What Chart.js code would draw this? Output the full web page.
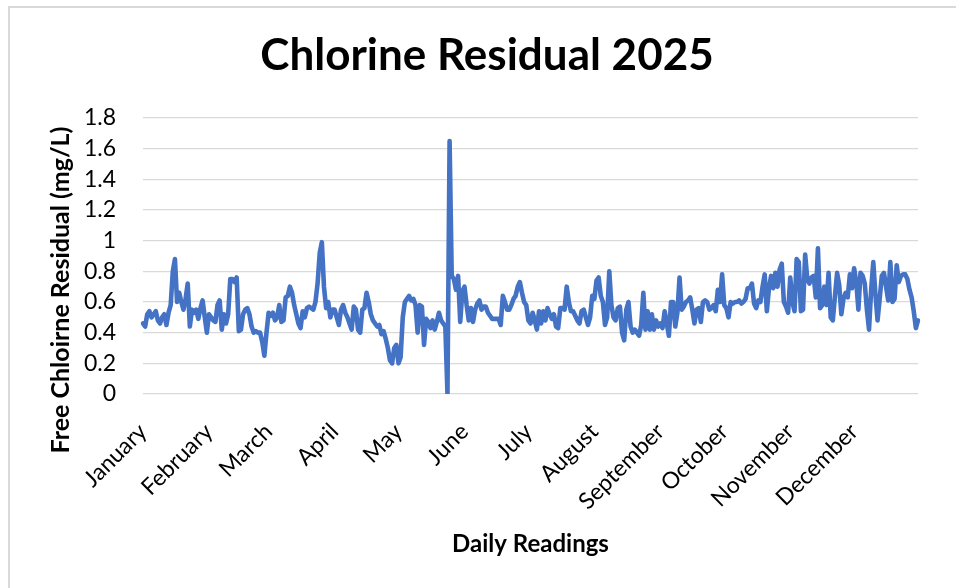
<!DOCTYPE html>
<html>
<head>
<meta charset="utf-8">
<script src="https://cdn.jsdelivr.net/npm/chart.js@4/dist/chart.umd.min.js"></script>
<style>
html, body { margin: 0; padding: 0; background: #fff; overflow: hidden; width: 956px; height: 588px; }
#frame { position: absolute; left: 8px; top: 6px; width: 1000px; height: 700px; border-left: 2px solid #d9d9d9; border-top: 2px solid #d9d9d9; }
#wrap { position: absolute; left: 0; top: 0; width: 956px; height: 588px; }
</style>
</head>
<body>
<div id="frame"></div>
<div id="wrap"><canvas id="c" width="956" height="588"></canvas></div>
<script>
const monthNames = ['January','February','March','April','May','June','July','August','September','October','November','December'];

const jan = [0.46,0.44,0.52,0.54,0.50,0.52,0.54,0.48,0.46,0.50,0.52,0.45,0.53,0.58,0.80,0.88,0.60,0.66,0.60,0.55,0.62,0.72,0.44,0.55,0.53,0.55,0.49,0.56,0.61,0.50,0.40];
const feb = [0.52,0.50,0.48,0.47,0.58,0.61,0.42,0.52,0.46,0.52,0.75,0.75,0.73,0.76,0.41,0.42,0.52,0.55,0.56,0.52,0.44,0.40,0.41,0.40,0.40,0.34,0.25,0.40];
const mar = [0.53,0.51,0.53,0.48,0.50,0.58,0.47,0.48,0.63,0.64,0.70,0.66,0.58,0.52,0.46,0.43,0.54,0.50,0.56,0.57,0.56,0.55,0.60,0.72,0.92,0.99,0.70,0.56,0.60,0.50,0.55];
const apr = [0.55,0.50,0.45,0.55,0.58,0.53,0.50,0.46,0.42,0.57,0.55,0.42,0.40,0.55,0.56,0.66,0.60,0.52,0.48,0.46,0.44,0.45,0.39,0.41,0.36,0.30,0.22,0.20,0.30,0.32];
const may = [0.20,0.24,0.50,0.60,0.62,0.64,0.61,0.62,0.58,0.40,0.58,0.57,0.32,0.49,0.47,0.43,0.48,0.42,0.47,0.53,0.48,0.46,0.44,0.00,1.65,0.77,0.75,0.68,0.77,0.47,0.67];
const jun = [0.70,0.58,0.48,0.56,0.47,0.55,0.59,0.61,0.55,0.57,0.57,0.53,0.51,0.49,0.49,0.49,0.49,0.45,0.64,0.60,0.55,0.55,0.58,0.62,0.64,0.70,0.73,0.66,0.60,0.58];
const jul = [0.48,0.46,0.53,0.48,0.42,0.54,0.46,0.54,0.48,0.56,0.52,0.49,0.52,0.44,0.43,0.56,0.56,0.55,0.70,0.60,0.54,0.54,0.51,0.48,0.46,0.54,0.55,0.50,0.45,0.50,0.64];
const aug = [0.62,0.74,0.76,0.64,0.60,0.45,0.50,0.80,0.58,0.50,0.48,0.56,0.57,0.40,0.35,0.55,0.60,0.44,0.40,0.42,0.40,0.38,0.45,0.66,0.42,0.54,0.42,0.52,0.42,0.48,0.44];
const sep = [0.46,0.43,0.54,0.46,0.38,0.60,0.60,0.44,0.53,0.76,0.55,0.57,0.60,0.61,0.63,0.55,0.46,0.55,0.56,0.47,0.60,0.61,0.60,0.55,0.56,0.58,0.54,0.68,0.60,0.78];
const oct = [0.58,0.56,0.50,0.60,0.59,0.60,0.60,0.61,0.59,0.60,0.62,0.69,0.69,0.72,0.59,0.56,0.61,0.60,0.70,0.78,0.54,0.69,0.77,0.69,0.79,0.70,0.81,0.85,0.60,0.57,0.53];
const nov = [0.76,0.60,0.54,0.88,0.86,0.54,0.55,0.91,0.75,0.72,0.76,0.77,0.63,0.95,0.56,0.58,0.70,0.58,0.79,0.50,0.48,0.64,0.79,0.71,0.52,0.62,0.66,0.63,0.78,0.69];
const dec = [0.82,0.73,0.55,0.79,0.77,0.72,0.55,0.42,0.68,0.86,0.65,0.48,0.62,0.77,0.79,0.70,0.61,0.86,0.60,0.62,0.84,0.73,0.77,0.78,0.78,0.75,0.68,0.63,0.54,0.43,0.48];

const yTickValues = [0, 0.2, 0.4, 0.6, 0.8, 1, 1.2, 1.4, 1.6, 1.8];

const chartTitle = 'Chlorine Residual 2025';
const xAxisTitle = 'Daily Readings';
const yAxisTitle = 'Free Chloirne Residual (mg/L)';

const months = [jan, feb, mar, apr, may, jun, jul, aug, sep, oct, nov, dec];
const values = [];
const labels = [];
months.forEach((m, i) => {
  m.forEach((v, k) => {
    values.push(v);
    labels.push(k === 0 ? monthNames[i] : '');
  });
});

const FONT = 'Lato, "Open Sans", sans-serif';

const yTitlePlugin = {
  id: 'yTitle',
  afterDraw(chart) {
    const ctx = chart.ctx;
    ctx.save();
    ctx.font = 'bold 25px ' + FONT;
    ctx.fillStyle = '#000';
    ctx.textAlign = 'center';
    ctx.textBaseline = 'middle';
    ctx.translate(61, 290);
    ctx.rotate(-Math.PI / 2);
    ctx.fillText(yAxisTitle, 0, 0);
    ctx.restore();
  }
};

new Chart(document.getElementById('c'), {
  type: 'line',
  data: {
    labels: labels,
    datasets: [{
      data: values,
      borderColor: '#4472C4',
      borderWidth: 4.6,
      pointRadius: 0,
      pointHoverRadius: 0,
      tension: 0,
      fill: false,
      borderJoinStyle: 'round',
      borderCapStyle: 'round'
    }]
  },
  plugins: [yTitlePlugin],
  options: {
    responsive: false,
    animation: false,
    devicePixelRatio: 1,
    layout: { padding: { left: 18, right: 0, top: 0, bottom: 0 } },
    plugins: {
      legend: { display: false },
      tooltip: { enabled: false },
      title: {
        display: true,
        text: chartTitle,
        color: '#000',
        font: { family: FONT, size: 44, weight: 'bold', lineHeight: 1.2 },
        padding: { top: 29, bottom: 36.2 }
      }
    },
    scales: {
      x: {
        grid: { display: false, drawTicks: false },
        border: { display: false },
        ticks: {
          autoSkip: false,
          maxRotation: 45,
          minRotation: 45,
          padding: 24,
          color: '#000',
          font: { family: FONT, size: 23 }
        },
        title: {
          display: true,
          text: xAxisTitle,
          color: '#000',
          font: { family: FONT, size: 24, weight: 'bold', lineHeight: 1.2 },
          padding: 29
        },
        afterFit(s) { s.height = 194; s.paddingRight = 0; s.paddingLeft = 0; }
      },
      y: {
        min: 0,
        max: 1.8,
        afterBuildTicks(s) { s.ticks = yTickValues.map(v => ({ value: v })); },
        grid: { color: '#d9d9d9', lineWidth: 1.3, drawTicks: false },
        border: { display: false },
        ticks: {
          padding: 27,
          color: '#000',
          font: { family: FONT, size: 23 },
          callback: v => String(Number(Number(v).toFixed(1)))
        },
        afterFit(s) { s.width = 125; }
      },
      yRight: {
        type: 'linear',
        position: 'right',
        display: true,
        grid: { display: false, drawTicks: false },
        border: { display: false },
        ticks: { display: false },
        afterFit(s) { s.width = 38; }
      }
    }
  }
});
</script>
</body>
</html>
